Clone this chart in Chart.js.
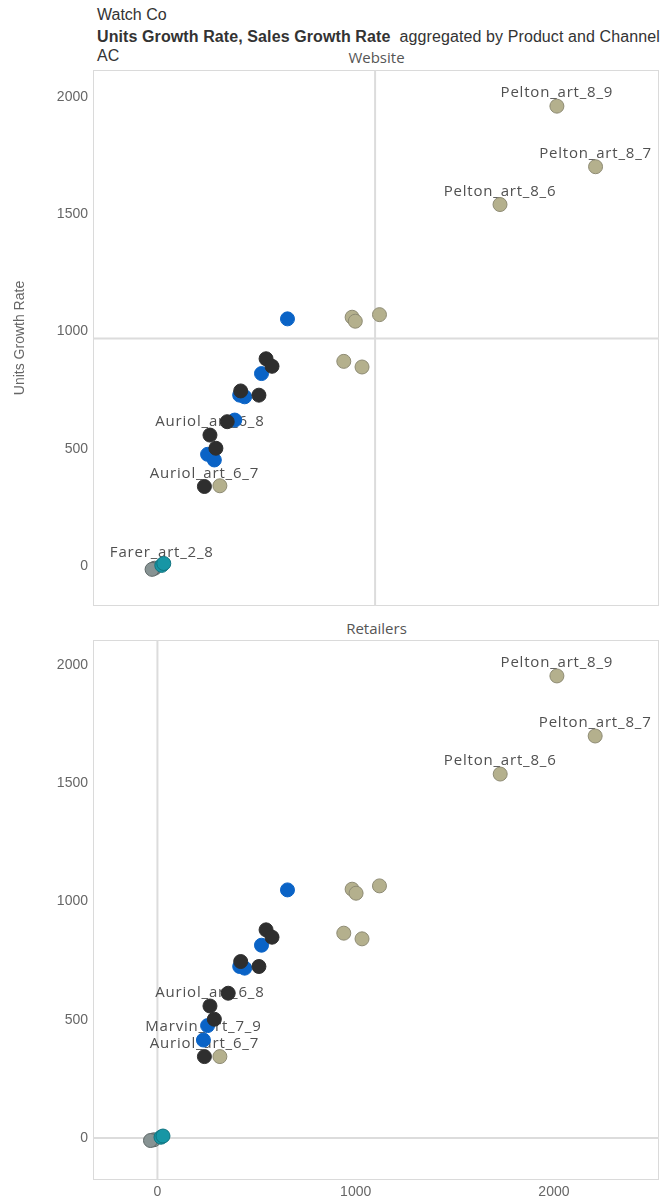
<!DOCTYPE html>
<html>
<head>
<meta charset="utf-8">
<title>Watch Co – Units vs Sales Growth Rate</title>
<script src="https://cdn.jsdelivr.net/npm/chart.js@4.4.1/dist/chart.umd.min.js"></script>
<style>
  html, body { margin: 0; padding: 0; background: #ffffff; }
  body { width: 667px; height: 1204px; position: relative; overflow: hidden; font-family: "Liberation Sans", Arial, sans-serif; }
  .hdr { position: absolute; left: 97px; color: #333; font-size: 16px; line-height: 20px; white-space: nowrap; }
  .panel-title { position: absolute; left: 93px; width: 567px; text-align: center; color: #555; font-family: "Open Sans", sans-serif; font-size: 15px; line-height: 20px; }
  canvas { position: absolute; left: 0; }
</style>
</head>
<body>
<div class="hdr" style="top:5px;">Watch Co</div>
<div class="hdr" style="top:27px; letter-spacing:0.1px;"><b>Units Growth Rate, Sales Growth Rate</b>&nbsp; aggregated by Product and Channel</div>
<div class="hdr" style="top:46px;">AC</div>
<div class="panel-title" style="top:47px;">Website</div>
<div class="panel-title" style="top:618px;">Retailers</div>

<canvas id="website" width="667" height="552" style="top:62px;"></canvas>
<canvas id="retailers" width="667" height="584" style="top:620px;"></canvas>

<script>
// Axis ticks shared by both panels
const xTicks = [0, 1000, 2000];
const yTicks = [0, 500, 1000, 1500, 2000];

// Website channel: [Sales Growth Rate, Units Growth Rate, label]
const websiteAuriol = [[548, 884], [578, 852], [420, 747], [512, 729], [352, 616], [265, 559, 'Auriol_art_6_8'], [295, 503], [237, 340, 'Auriol_art_6_7']];
const websiteMarvin = [[656, 1054], [525, 821], [415, 729], [440, 722], [390, 623], [253, 477], [287, 453]];
const websitePelton = [[982, 1061], [998, 1044], [1120, 1072], [940, 873], [1032, 849], [315, 343], [2015, 1960, 'Pelton_art_8_9'], [2210, 1702, 'Pelton_art_8_7'], [1728, 1541, 'Pelton_art_8_6']];
const websiteFarer = [[22, 4, 'Farer_art_2_8'], [32, 12]];
const websiteOther = [[-14, -8], [-27, -13]];
const websiteRef = [1098, 970];

// Retailers channel
const retailersAuriol = [[548, 880], [578, 849], [420, 746], [512, 725], [357, 612], [265, 558, 'Auriol_art_6_8'], [287, 502], [237, 344, 'Auriol_art_6_7']];
const retailersMarvin = [[656, 1049], [525, 815], [415, 725], [440, 718], [253, 475], [232, 414, 'Marvin_art_7_9']];
const retailersPelton = [[982, 1052], [1002, 1035], [1120, 1066], [940, 866], [1032, 842], [315, 344], [2015, 1954, 'Pelton_art_8_9'], [2208, 1700, 'Pelton_art_8_7'], [1729, 1539, 'Pelton_art_8_6']];
const retailersFarer = [[18, 3], [28, 8]];
const retailersOther = [[-18, -8], [-35, -11]];
const retailersRef = [0, 0];

const productStyles = {
  Farer:  { fill: '#1796a5', edge: '#117480' },
  Other:  { fill: '#879393', edge: '#5d6767' },
  Auriol: { fill: '#2e2e2e', edge: '#2e2e2e' },
  Marvin: { fill: '#0a63c6', edge: '#0a63c6' },
  Pelton: { fill: '#b4b08d', edge: '#8e8b74' }
};

function toPoints(rows) {
  return rows.map(r => ({ x: r[0], y: r[1], name: r[2] || null }));
}

function makeDataset(product, rows) {
  const s = productStyles[product];
  return {
    label: product,
    data: toPoints(rows),
    backgroundColor: s.fill,
    borderColor: s.edge,
    borderWidth: 1,
    pointRadius: 7,
    pointHoverRadius: 7
  };
}

// Frame, reference lines and point names are drawn beneath the markers
const panelDecor = {
  id: 'panelDecor',
  beforeDatasetsDraw(chart, args, opts) {
    const { ctx, chartArea: a, scales } = chart;
    ctx.save();
    ctx.strokeStyle = '#dadada';
    ctx.lineWidth = 1;
    ctx.strokeRect(a.left + 0.5, a.top + 0.5, a.right - a.left - 1, a.bottom - a.top - 1);
    ctx.strokeStyle = '#dcdcdc';
    ctx.lineWidth = 2;
    const rx = scales.x.getPixelForValue(opts.ref[0]);
    const ry = scales.y.getPixelForValue(opts.ref[1]);
    ctx.beginPath();
    ctx.moveTo(rx, a.top); ctx.lineTo(rx, a.bottom);
    ctx.moveTo(a.left, ry); ctx.lineTo(a.right, ry);
    ctx.stroke();

    ctx.fillStyle = '#505050';
    ctx.font = '15px "Open Sans", sans-serif';
    ctx.letterSpacing = '0.8px';
    ctx.textAlign = 'center';
    ctx.textBaseline = 'middle';
    chart.data.datasets.forEach((ds, di) => {
      const meta = chart.getDatasetMeta(di);
      ds.data.forEach((p, i) => {
        if (!p.name) return;
        const el = meta.data[i];
        ctx.fillText(p.name, el.x, el.y - 13);
      });
    });
    ctx.restore();
  }
};

const tickFont = { family: '"Liberation Sans", Arial, sans-serif', size: 14 };

function buildChart(id, sets, ref, opts) {
  return new Chart(document.getElementById(id), {
    type: 'scatter',
    data: {
      datasets: [
        makeDataset('Farer', sets.Farer),
        makeDataset('Other', sets.Other),
        makeDataset('Pelton', sets.Pelton),
        makeDataset('Auriol', sets.Auriol),
        makeDataset('Marvin', sets.Marvin)
      ]
    },
    options: {
      responsive: false,
      animation: false,
      layout: { padding: opts.padding },
      plugins: {
        legend: { display: false },
        tooltip: { enabled: false },
        panelDecor: { ref: ref }
      },
      scales: {
        x: {
          type: 'linear',
          min: -325,
          max: 2530,
          display: opts.showX,
          grid: { display: false, drawTicks: false },
          border: { display: false },
          afterBuildTicks: s => { s.ticks = xTicks.map(v => ({ value: v })); },
          afterFit: s => { s.height = opts.showX ? 24 : 0; s.paddingLeft = 0; s.paddingRight = 0; },
          ticks: { color: '#666', font: tickFont, padding: 4, callback: v => String(v) }
        },
        y: {
          type: 'linear',
          min: opts.yMin,
          max: opts.yMax,
          grid: { display: false, drawTicks: false },
          border: { display: false },
          afterBuildTicks: s => { s.ticks = yTicks.map(v => ({ value: v })); },
          afterFit: s => { s.width = 93; s.paddingTop = 0; s.paddingBottom = 0; },
          ticks: { color: '#666', font: tickFont, padding: 5, callback: v => String(v) },
          title: {
            display: opts.showYTitle,
            text: 'Units Growth Rate',
            color: '#666',
            font: tickFont,
            padding: { top: 12, bottom: 0 }
          }
        }
      }
    },
    plugins: [panelDecor]
  });
}

buildChart('website',
  { Farer: websiteFarer, Other: websiteOther, Pelton: websitePelton, Auriol: websiteAuriol, Marvin: websiteMarvin },
  websiteRef,
  { padding: { top: 6, right: 7, bottom: 7, left: 0 }, showX: false, showYTitle: true, yMin: -169, yMax: 2114 });

buildChart('retailers',
  { Farer: retailersFarer, Other: retailersOther, Pelton: retailersPelton, Auriol: retailersAuriol, Marvin: retailersMarvin },
  retailersRef,
  { padding: { top: 20, right: 7, bottom: 0, left: 0 }, showX: true, showYTitle: false, yMin: -178, yMax: 2106 });
</script>
</body>
</html>
